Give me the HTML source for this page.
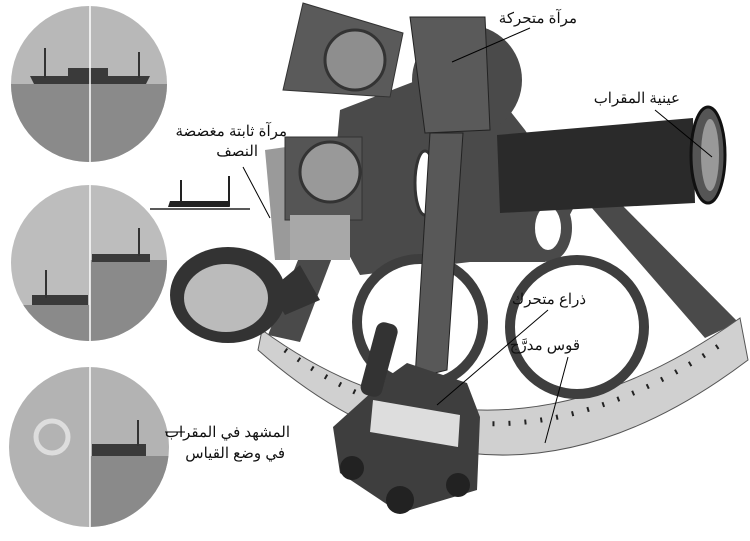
<!DOCTYPE html>
<html><head><meta charset="utf-8"><style>
html,body{margin:0;padding:0;background:#fff;width:750px;height:541px;overflow:hidden}
svg{display:block}
text{font-family:"Liberation Sans","Noto Sans CJK SC",sans-serif;font-size:15px;fill:#111}
</style></head><body>
<svg width="750" height="541" viewBox="0 0 750 541" xmlns="http://www.w3.org/2000/svg">
<defs>
<clipPath id="c1"><circle cx="89" cy="84" r="78"/></clipPath>
<clipPath id="c2"><circle cx="89" cy="263" r="78"/></clipPath>
<clipPath id="c3"><circle cx="89" cy="447" r="80"/></clipPath>
</defs>
<g clip-path="url(#c1)">
<rect x="0" y="0" width="180" height="170" fill="#b8b8b8"/>
<rect x="0" y="84" width="180" height="90" fill="#8a8a8a"/>
<path d="M30 76 h120 l-4 8 h-112z" fill="#3a3a3a"/>
<rect x="44" y="48" width="2" height="30" fill="#333"/>
<rect x="138" y="52" width="2" height="26" fill="#333"/>
<rect x="68" y="68" width="40" height="10" fill="#3a3a3a"/>
</g>
<g clip-path="url(#c2)">
<rect x="0" y="180" width="180" height="170" fill="#bdbdbd"/>
<rect x="90" y="260" width="90" height="90" fill="#8a8a8a"/>
<rect x="0" y="305" width="90" height="40" fill="#8a8a8a"/>
<rect x="92" y="254" width="58" height="8" fill="#3a3a3a"/>
<rect x="138" y="228" width="2" height="28" fill="#333"/>
<rect x="32" y="295" width="56" height="10" fill="#3a3a3a"/>
<rect x="45" y="270" width="2" height="28" fill="#333"/>
</g>
<g clip-path="url(#c3)">
<rect x="0" y="360" width="180" height="170" fill="#b3b3b3"/>
<rect x="90" y="456" width="90" height="80" fill="#8a8a8a"/>
<circle cx="52" cy="437" r="16" fill="none" stroke="#ddd" stroke-width="5"/>
<rect x="92" y="444" width="54" height="12" fill="#3a3a3a"/>
<rect x="137" y="420" width="2" height="26" fill="#333"/>
</g>
<line x1="90" y1="6" x2="90" y2="530" stroke="#fff" stroke-width="1.5"/>
<!-- small ship -->
<line x1="150" y1="209" x2="250" y2="209" stroke="#222" stroke-width="1.5"/>
<path d="M168 207 h62 l-2 -6 h-58z" fill="#222"/>
<rect x="180" y="180" width="2" height="26" fill="#222"/>
<rect x="228" y="176" width="2" height="30" fill="#222"/>
<!-- frame -->
<path d="M340 110 L470 60 L525 130 L575 205 L545 262 L470 262 L360 275 L330 220z" fill="#4a4a4a"/>
<path d="M322 200 L352 205 L300 342 L268 335z" fill="#4a4a4a"/>
<path d="M585 200 L622 205 L738 322 L705 338z" fill="#4a4a4a"/>
<ellipse cx="548" cy="228" rx="24" ry="34" fill="#4a4a4a"/>
<ellipse cx="548" cy="228" rx="13" ry="22" fill="#fff"/>
<!-- arc -->
<path d="M262 330 Q490 496 740 318 L748 360 Q490 555 258 350z" fill="#d0d0d0" stroke="#555"/>
<path d="M285 350 Q490 500 720 345" fill="none" stroke="#222" stroke-width="5" stroke-dasharray="2 14"/>
<!-- rings -->
<circle cx="420" cy="322" r="63" fill="#fff" stroke="#3e3e3e" stroke-width="10"/>
<circle cx="577" cy="327" r="67" fill="#fff" stroke="#3e3e3e" stroke-width="10"/>
<ellipse cx="425" cy="183" rx="10" ry="32" fill="#fff" stroke="#333" stroke-width="3"/>
<!-- top mirror box -->
<path d="M303 3 L403 33 L390 97 L283 90z" fill="#5a5a5a" stroke="#333"/>
<circle cx="355" cy="60" r="30" fill="#8e8e8e" stroke="#333" stroke-width="3"/>
<!-- second mirror box -->
<path d="M265 150 L300 145 L350 260 L275 260z" fill="#9a9a9a"/>
<rect x="285" y="137" width="77" height="83" fill="#555" stroke="#333"/>
<circle cx="330" cy="172" r="30" fill="#999" stroke="#333" stroke-width="3"/>
<rect x="290" y="215" width="60" height="45" fill="#a8a8a8"/>
<!-- horizon lens -->
<ellipse cx="228" cy="295" rx="58" ry="48" fill="#333"/>
<ellipse cx="226" cy="298" rx="42" ry="34" fill="#bbb"/>
<path d="M270 290 L300 265 L320 300 L285 315z" fill="#333"/>
<!-- movable mirror head -->
<circle cx="467" cy="80" r="55" fill="#4a4a4a"/>
<path d="M410 17 L485 17 L490 130 L425 133z" fill="#5a5a5a" stroke="#222"/>
<!-- index arm -->
<path d="M430 133 L463 133 L447 370 L415 378z" fill="#585858" stroke="#222"/>
<!-- bottom plate -->
<path d="M333 427 L393 373 L407 363 L467 383 L480 417 L477 490 L400 513 L340 473z" fill="#3e3e3e"/>
<path d="M373 400 L460 415 L458 447 L370 432z" fill="#ddd"/>
<circle cx="352" cy="468" r="12" fill="#222"/><circle cx="400" cy="500" r="14" fill="#222"/><circle cx="458" cy="485" r="12" fill="#222"/>
<rect x="368" y="322" width="22" height="75" rx="8" fill="#333" transform="rotate(15 379 360)"/>
<!-- telescope -->
<path d="M497 135 L693 118 L695 203 L500 213z" fill="#2a2a2a"/>
<ellipse cx="708" cy="155" rx="17" ry="48" fill="#555" stroke="#111" stroke-width="3"/>
<ellipse cx="710" cy="155" rx="9" ry="36" fill="#999"/>
<!-- labels -->
<text x="577" y="23" text-anchor="end">مرآة متحركة</text>
<line x1="530" y1="28" x2="452" y2="62" stroke="#000"/>
<text x="680" y="103" text-anchor="end">عينية المقراب</text>
<line x1="655" y1="110" x2="712" y2="157" stroke="#000"/>
<text x="287" y="136" text-anchor="end">مرآة ثابتة مغضضة</text>
<text x="258" y="156" text-anchor="end">النصف</text>
<line x1="243" y1="167" x2="270" y2="218" stroke="#000"/>
<text x="586" y="304" text-anchor="end">ذراع متحرك</text>
<line x1="548" y1="310" x2="437" y2="405" stroke="#000"/>
<text x="580" y="350" text-anchor="end">قوس مدرَّج</text>
<line x1="568" y1="357" x2="545" y2="443" stroke="#000"/>
<text x="290" y="437" text-anchor="end">المشهد في المقراب</text>
<text x="285" y="458" text-anchor="end">في وضع القياس</text>
<line x1="165" y1="432" x2="185" y2="432" stroke="#000"/>
</svg>
</body></html>
